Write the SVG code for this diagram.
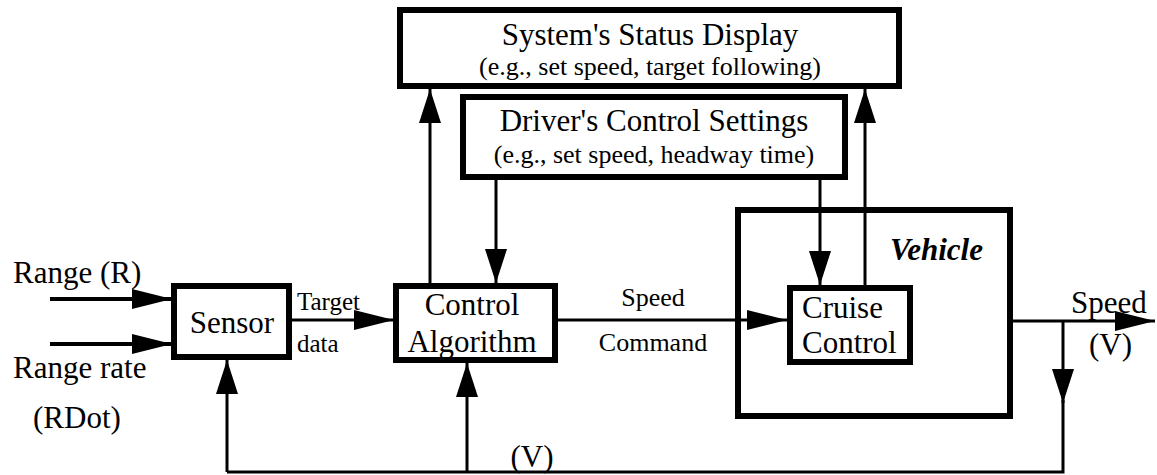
<svg xmlns="http://www.w3.org/2000/svg" width="1157" height="475" viewBox="0 0 1157 475">
  <defs>
    <marker id="ah" markerUnits="userSpaceOnUse" markerWidth="40" markerHeight="20" refX="40" refY="10" orient="auto">
      <path d="M0,0 L40,10 L0,20 Z" fill="#000"/>
    </marker>
    <marker id="av" markerUnits="userSpaceOnUse" markerWidth="34" markerHeight="22" refX="34" refY="11" orient="auto">
      <path d="M0,0 L34,11 L0,22 Z" fill="#000"/>
    </marker>
  </defs>

  <rect width="1157" height="475" fill="#fff"/>

  <!-- outer vehicle boundary (drawn first so the wires cross it) -->
  <g id="vehicle">
    <rect x="738" y="210" width="272" height="206" fill="#fff" stroke="#000" stroke-width="6"/>
    <text x="890" y="260" font-family="Liberation Serif" font-size="31" font-weight="bold" font-style="italic">Vehicle</text>
  </g>

  <g id="connectors" fill="none" stroke="#000" stroke-width="3">
    <!-- external inputs to the sensor -->
    <line x1="50" y1="299" x2="172" y2="299" stroke-width="4" marker-end="url(#ah)"/>
    <line x1="50" y1="344" x2="172" y2="344" stroke-width="4" marker-end="url(#ah)"/>
    <!-- target data -->
    <line x1="292" y1="320" x2="394" y2="320" marker-end="url(#ah)"/>
    <!-- control algorithm to status display -->
    <line x1="430" y1="283" x2="430" y2="89" marker-end="url(#av)"/>
    <!-- driver settings to control algorithm -->
    <line x1="496" y1="180" x2="496" y2="283" marker-end="url(#av)"/>
    <!-- speed command -->
    <line x1="558" y1="320" x2="787" y2="320" marker-end="url(#ah)"/>
    <!-- driver settings to cruise control -->
    <line x1="820" y1="180" x2="820" y2="285" marker-end="url(#av)"/>
    <!-- cruise control to status display -->
    <line x1="865" y1="285" x2="865" y2="89" marker-end="url(#av)"/>
    <!-- speed output -->
    <line x1="1013" y1="321" x2="1155" y2="321" marker-end="url(#ah)"/>
    <!-- speed feedback loop -->
    <line x1="1063" y1="321" x2="1063" y2="403" marker-end="url(#av)"/>
    <polyline points="1063,400 1063,472 227,472"/>
    <line x1="227" y1="472" x2="227" y2="360" marker-end="url(#av)"/>
    <line x1="467" y1="472" x2="467" y2="363" marker-end="url(#av)"/>
  </g>

  <g id="status-display">
    <rect x="400" y="10" width="499" height="76" fill="#fff" stroke="#000" stroke-width="6"/>
    <text x="650" y="45" font-family="Liberation Serif" font-size="31" text-anchor="middle">System's Status Display</text>
    <text x="650" y="75" font-family="Liberation Serif" font-size="26" text-anchor="middle">(e.g., set speed, target following)</text>
  </g>

  <g id="driver-settings">
    <rect x="463" y="97" width="382" height="80" fill="#fff" stroke="#000" stroke-width="6"/>
    <text x="654" y="131" font-family="Liberation Serif" font-size="31" text-anchor="middle">Driver's Control Settings</text>
    <text x="654" y="163" font-family="Liberation Serif" font-size="26" text-anchor="middle">(e.g., set speed, headway time)</text>
  </g>

  <g id="sensor">
    <rect x="174" y="286" width="115" height="71" fill="#fff" stroke="#000" stroke-width="6"/>
    <text x="232" y="333" font-family="Liberation Serif" font-size="31" text-anchor="middle">Sensor</text>
  </g>

  <g id="control-algorithm">
    <rect x="396" y="286" width="159" height="74" fill="#fff" stroke="#000" stroke-width="6"/>
    <text x="472" y="315" font-family="Liberation Serif" font-size="31" text-anchor="middle">Control</text>
    <text x="472" y="352" font-family="Liberation Serif" font-size="31" text-anchor="middle">Algorithm</text>
  </g>

  <g id="cruise-control">
    <rect x="790" y="288" width="120" height="74" fill="#fff" stroke="#000" stroke-width="6"/>
    <text x="802" y="318" font-family="Liberation Serif" font-size="31">Cruise</text>
    <text x="802" y="353" font-family="Liberation Serif" font-size="31">Control</text>
  </g>

  <g id="labels">
    <text x="13" y="283" font-family="Liberation Serif" font-size="31">Range (R)</text>
    <text x="13" y="378" font-family="Liberation Serif" font-size="31">Range rate</text>
    <text x="33" y="428" font-family="Liberation Serif" font-size="31">(RDot)</text>
    <text x="297" y="310" font-family="Liberation Serif" font-size="25">Target</text>
    <text x="297" y="352" font-family="Liberation Serif" font-size="25">data</text>
    <text x="653" y="306" font-family="Liberation Serif" font-size="26" text-anchor="middle">Speed</text>
    <text x="653" y="351" font-family="Liberation Serif" font-size="26" text-anchor="middle">Command</text>
    <text x="1071" y="313" font-family="Liberation Serif" font-size="31">Speed</text>
    <text x="1089" y="355" font-family="Liberation Serif" font-size="31">(V)</text>
    <text x="532" y="467" font-family="Liberation Serif" font-size="31" text-anchor="middle">(V)</text>
  </g>
</svg>
